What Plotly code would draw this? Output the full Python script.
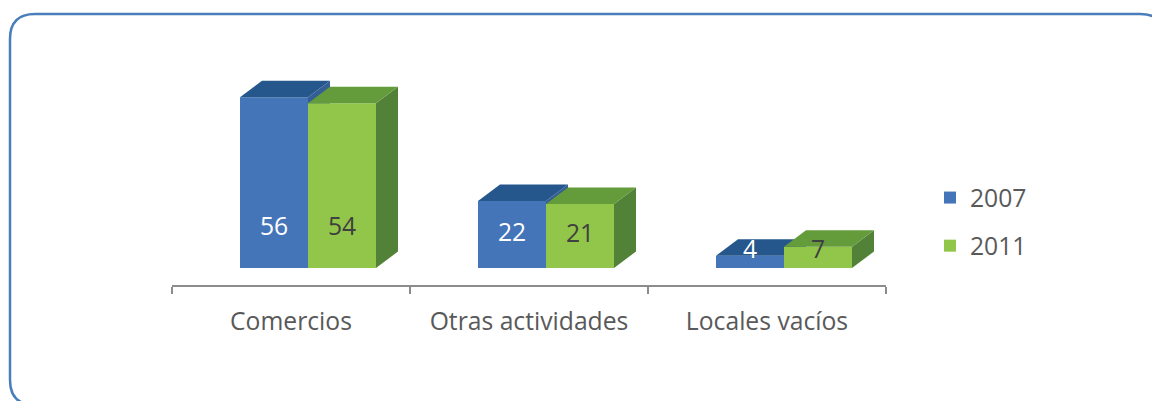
import plotly.graph_objects as go

# ---------------- data ----------------
categories = ["Comercios", "Otras actividades", "Locales vacíos"]
series_names = ["2007", "2011"]
values_2007 = [56, 22, 4]
values_2011 = [54, 21, 7]

# ---------------- styling ----------------
front_colors = ["#4575B9", "#92C64A"]
top_colors = ["#26578C", "#649C3C"]
side_colors = ["#345F95", "#528237"]
label_colors = ["#FFFFFF", "#404040"]
text_color = "#595959"
axis_color = "#8C8C8C"
border_color = "#4A7EBB"
FONT = "Open Sans"
FS = 24.7

W, H = 1152, 401
ML, MR, MT, MB = 172, 266, 40, 116
PW = W - ML - MR
PH = H - MT - MB
ky = 3.05                      # px per value unit
kx = PW / len(categories)      # px per category
y0 = -17 / ky
y1 = y0 + PH / ky

bar_w = 68 / kx
group_shift = 17 / kx
dx = 22 / kx
dy = 16.5 / ky

fig = go.Figure()

series = [values_2007, values_2011]


def poly(xs, ys, color):
    fig.add_trace(go.Scatter(
        x=xs + [xs[0]], y=ys + [ys[0]], mode="lines", fill="toself",
        fillcolor=color, line=dict(width=0, color=color),
        hoverinfo="skip", showlegend=False))


for ci, cat in enumerate(categories):
    for si, vals in enumerate(series):
        v = vals[ci]
        xl = ci - bar_w + group_shift + si * bar_w
        xr = xl + bar_w
        # front
        poly([xl, xr, xr, xl], [0, 0, v, v], front_colors[si])
        # side
        poly([xr, xr + dx, xr + dx, xr], [0, dy, v + dy, v], side_colors[si])
        # top
        poly([xl, xr, xr + dx, xl + dx], [v, v, v + dy, v + dy], top_colors[si])

# data labels
for si, vals in enumerate(series):
    xs, ys, tx = [], [], []
    for ci, v in enumerate(vals):
        xl = ci - bar_w + group_shift + si * bar_w
        xs.append(xl + bar_w / 2)
        ys.append(min(max(v / 2, 5.2), 12.8))
        tx.append(str(v))
    fig.add_trace(go.Scatter(
        x=xs, y=ys, text=tx, mode="text",
        textfont=dict(family=FONT, size=FS, color=label_colors[si]),
        hoverinfo="skip", showlegend=False))

# legend entries
for si, name in enumerate(series_names):
    fig.add_trace(go.Bar(
        x=[None], y=[None], name=name, legendgroup=name,
        marker=dict(color=front_colors[si], line=dict(width=0))))


# rounded border
def pxx(p):
    return (p - ML) / PW


def pyy(p):
    return (H - MB - p) / PH


bx0, by0, bx1, by1, r = 10, 14, 1165, 405, 25
pts = [
    ("M", bx0 + r, by0), ("L", bx1 - r, by0),
    ("Q", bx1, by0, bx1, by0 + r), ("L", bx1, by1 - r),
    ("Q", bx1, by1, bx1 - r, by1), ("L", bx0 + r, by1),
    ("Q", bx0, by1, bx0, by1 - r), ("L", bx0, by0 + r),
    ("Q", bx0, by0, bx0 + r, by0),
]
path = ""
for p in pts:
    cmd = p[0]
    coords = p[1:]
    s = []
    for i in range(0, len(coords), 2):
        s.append(f"{pxx(coords[i]):.5f},{pyy(coords[i + 1]):.5f}")
    path += cmd + " ".join(s) + " "
path += "Z"

fig.add_shape(type="path", path=path, xref="paper", yref="paper",
              line=dict(color=border_color, width=2.5), layer="below")

fig.update_layout(
    width=W, height=H,
    margin=dict(l=ML, r=MR, t=MT, b=MB),
    paper_bgcolor="white", plot_bgcolor="white",
    font=dict(family=FONT, color=text_color, size=FS),
    showlegend=True,
    legend=dict(x=pxx(930), xanchor="left", y=pyy(175), yanchor="top",
                traceorder="grouped", tracegroupgap=13,
                font=dict(family=FONT, size=FS, color=text_color),
                bgcolor="rgba(0,0,0,0)"),
    xaxis=dict(range=[-0.5, len(categories) - 0.5], tickmode="array",
               tickvals=list(range(len(categories))), ticktext=categories,
               ticks="", showgrid=False, zeroline=False,
               showline=True, linecolor=axis_color, linewidth=1.5,
               ticklabelstandoff=14,
               tickfont=dict(family=FONT, size=FS, color=text_color),
               minor=dict(tickmode="array",
                          tickvals=[i - 0.5 for i in range(len(categories) + 1)],
                          ticks="outside", ticklen=7, tickcolor=axis_color,
                          tickwidth=1.5, showgrid=False),
               fixedrange=True),
    yaxis=dict(range=[y0, y1], visible=False, fixedrange=True),
    hovermode=False,
)

fig.write_html(
    "out.html",
    config={"displayModeBar": False, "staticPlot": True},
    post_script="document.body.style.margin='0px';document.body.style.overflow='hidden';",
)
